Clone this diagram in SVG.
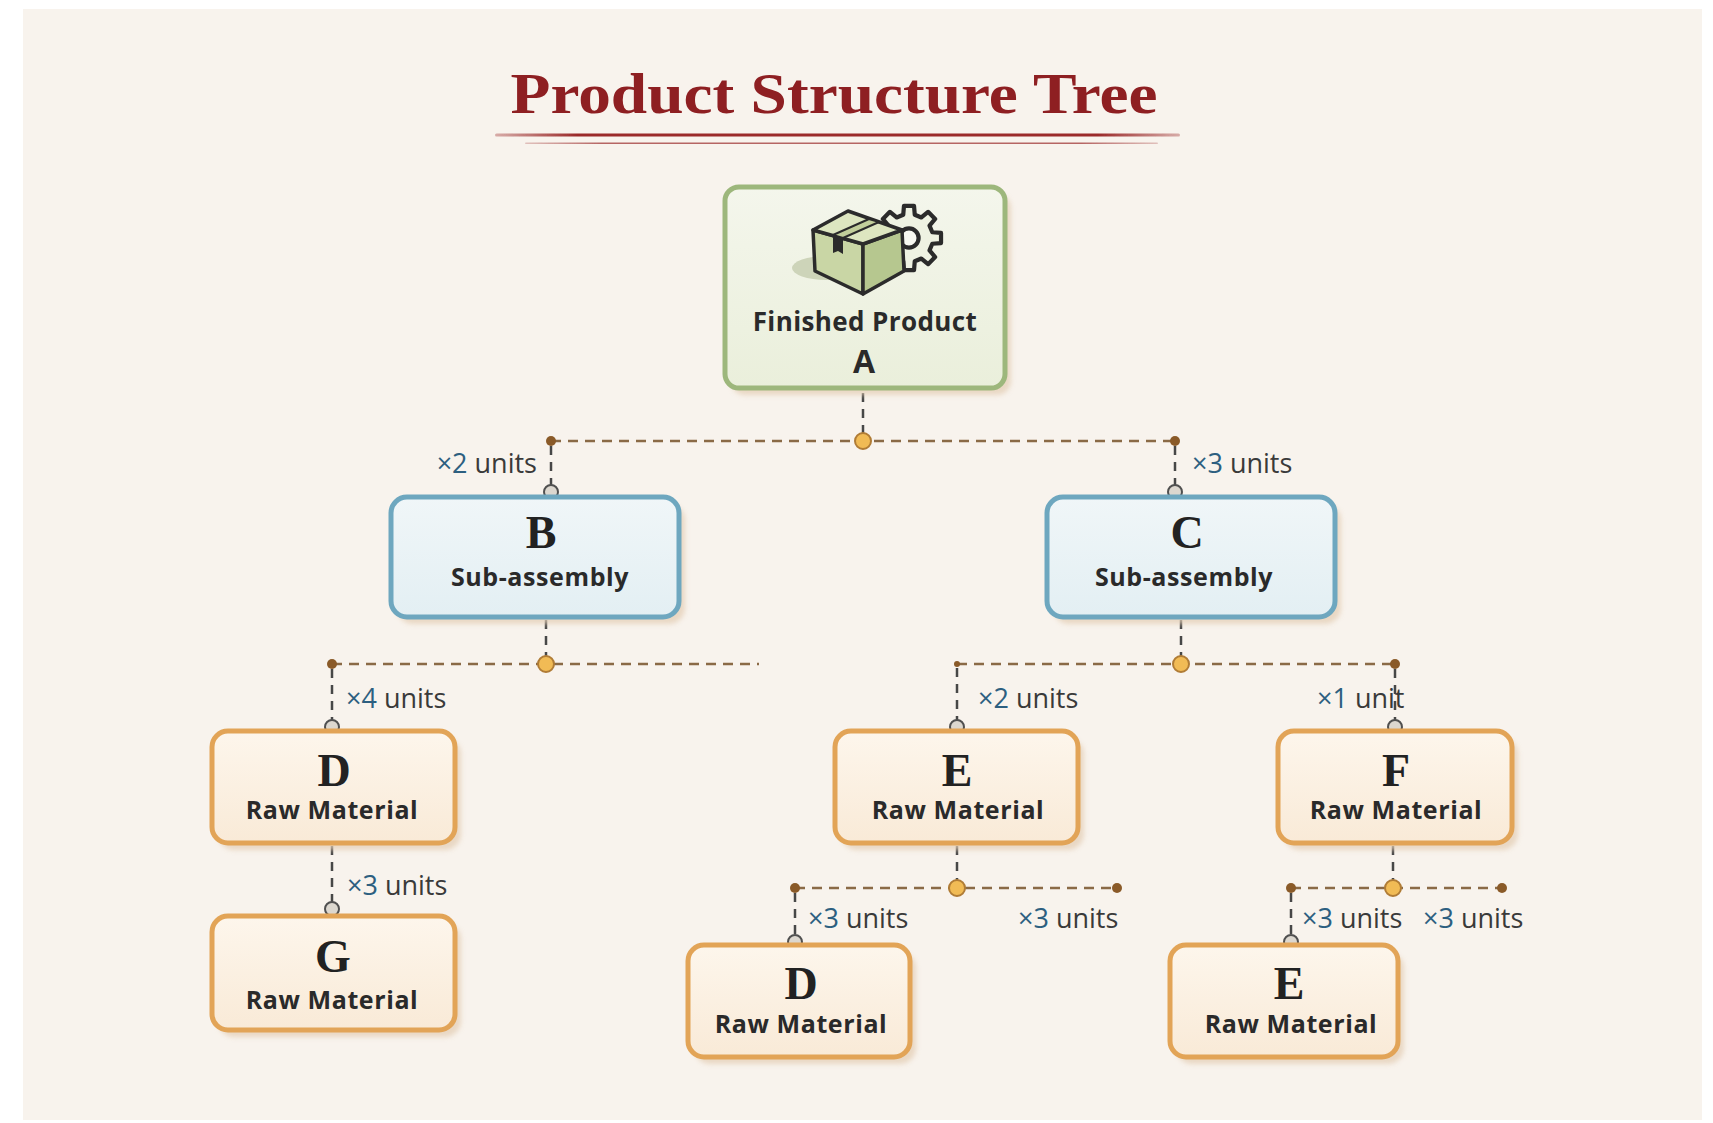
<svg xmlns="http://www.w3.org/2000/svg" width="1713" height="1123" viewBox="0 0 1713 1123">
  <defs>
    <style>
      .lbl { font-family: "Open Sans", Lato, "Liberation Sans", sans-serif; font-weight: 700; fill: #2a2a2a; text-anchor: middle; }
      .sub { font-size: 25px; letter-spacing: 0.6px; }
      .ltr { font-family: "Liberation Serif", "DejaVu Serif", serif; font-weight: 700; font-size: 46px; fill: #222; text-anchor: middle; }
      .qty { font-family: "Open Sans", Lato, "Liberation Sans", sans-serif; font-size: 27px; fill: #3a3a3a; }
      .qty .n { fill: #2d5f80; }
      .shadow { fill: #e4cfb6; opacity: 0.75; filter: url(#blur); }
      .green { fill: url(#gGreen); stroke: #9db77c; stroke-width: 5; }
      .blue { fill: url(#gBlue); stroke: #6ea7bf; stroke-width: 5; }
      .orange { fill: url(#gOrange); stroke: #e2a457; stroke-width: 5; }
      .hline { stroke: #8a6a46; stroke-width: 2.5; stroke-dasharray: 10 7; fill: none; }
      .vline { stroke: #474747; stroke-width: 2.5; stroke-dasharray: 9 7; fill: none; }
      .ring { fill: #dcd7cf; stroke: #505050; stroke-width: 2; }
      .hub { fill: #f1bb55; stroke: #b07c36; stroke-width: 2; }
      .end { fill: #8a5a28; }
      .icon { stroke: #2b2b2b; stroke-width: 3.5; stroke-linejoin: round; }
    </style>
    <filter id="blur" x="-10%" y="-10%" width="120%" height="120%">
      <feGaussianBlur stdDeviation="2.5"/>
    </filter>
    <filter id="soft" x="-5%" y="-200%" width="110%" height="500%">
      <feGaussianBlur stdDeviation="0.6"/>
    </filter>
    <linearGradient id="gGreen" x1="0" y1="0" x2="0" y2="1">
      <stop offset="0" stop-color="#f4f6ec"/>
      <stop offset="1" stop-color="#eaefdb"/>
    </linearGradient>
    <linearGradient id="gBlue" x1="0" y1="0" x2="0" y2="1">
      <stop offset="0" stop-color="#f0f6f8"/>
      <stop offset="1" stop-color="#e3eff3"/>
    </linearGradient>
    <linearGradient id="gOrange" x1="0" y1="0" x2="0" y2="1">
      <stop offset="0" stop-color="#fdf6ec"/>
      <stop offset="1" stop-color="#f9ead7"/>
    </linearGradient>
    <linearGradient id="rule" x1="0" y1="0" x2="1" y2="0">
      <stop offset="0" stop-color="#9b2a2a" stop-opacity="0.35"/>
      <stop offset="0.12" stop-color="#9b2a2a"/>
      <stop offset="0.88" stop-color="#9b2a2a"/>
      <stop offset="1" stop-color="#9b2a2a" stop-opacity="0.35"/>
    </linearGradient>
  </defs>

  <!-- page -->
  <rect x="0" y="0" width="1713" height="1123" fill="#ffffff"/>
  <rect x="23" y="9" width="1679" height="1111" fill="#f8f3ed"/>

  <!-- title -->
  <g id="title">
    <text x="834" y="113" text-anchor="middle" textLength="647" lengthAdjust="spacingAndGlyphs" font-family="'Liberation Serif', 'DejaVu Serif', serif" font-weight="700" font-size="58" fill="#8e1f22">Product Structure Tree</text>
    <rect x="495" y="133.5" width="685" height="3" rx="1.5" fill="url(#rule)" filter="url(#soft)"/>
    <rect x="525" y="142.5" width="633" height="1.6" rx="0.8" fill="url(#rule)" opacity="0.7" filter="url(#soft)"/>
  </g>

  <!-- connectors -->
  <g id="connectors">
    <!-- A to B, C -->
    <line class="vline" x1="863" y1="393" x2="863" y2="433"/>
    <line class="hline" x1="551" y1="441" x2="1175" y2="441"/>
    <line class="vline" x1="551" y1="446" x2="551" y2="485"/>
    <line class="vline" x1="1175" y1="446" x2="1175" y2="485"/>
    <!-- B to D -->
    <line class="vline" x1="546" y1="620" x2="546" y2="656"/>
    <line class="hline" x1="332" y1="664" x2="759" y2="664"/>
    <line class="vline" x1="332" y1="669" x2="332" y2="720"/>
    <!-- D to G -->
    <line class="vline" x1="332" y1="846" x2="332" y2="902"/>
    <!-- C to E, F -->
    <line class="vline" x1="1181" y1="620" x2="1181" y2="656"/>
    <line class="hline" x1="957" y1="664" x2="1395" y2="664"/>
    <line class="vline" x1="957" y1="668" x2="957" y2="720"/>
    <line class="vline" x1="1395" y1="669" x2="1395" y2="720"/>
    <!-- E to D -->
    <line class="vline" x1="957" y1="846" x2="957" y2="880"/>
    <line class="hline" x1="795" y1="888" x2="1117" y2="888"/>
    <line class="vline" x1="795" y1="893" x2="795" y2="935"/>
    <!-- F to E -->
    <line class="vline" x1="1393" y1="846" x2="1393" y2="880"/>
    <line class="hline" x1="1291" y1="888" x2="1502" y2="888"/>
    <line class="vline" x1="1291" y1="893" x2="1291" y2="935"/>

    <!-- junction dots -->
    <circle class="hub" cx="863" cy="441" r="8"/>
    <circle class="end" cx="551" cy="441" r="5"/>
    <circle class="end" cx="1175" cy="441" r="5"/>
    <circle class="hub" cx="546" cy="664" r="8"/>
    <circle class="end" cx="332" cy="664" r="5"/>
    <circle class="hub" cx="1181" cy="664" r="8"/>
    <circle class="end" cx="957" cy="664" r="3"/>
    <circle class="end" cx="1395" cy="664" r="5"/>
    <circle class="hub" cx="957" cy="888" r="8"/>
    <circle class="end" cx="795" cy="888" r="5"/>
    <circle class="end" cx="1117" cy="888" r="5"/>
    <circle class="hub" cx="1393" cy="888" r="8"/>
    <circle class="end" cx="1291" cy="888" r="5"/>
    <circle class="end" cx="1502" cy="888" r="5"/>

    <!-- attach rings -->
    <circle class="ring" cx="551" cy="492" r="7"/>
    <circle class="ring" cx="1175" cy="492" r="7"/>
    <circle class="ring" cx="332" cy="727" r="7"/>
    <circle class="ring" cx="957" cy="727" r="7"/>
    <circle class="ring" cx="1395" cy="727" r="7"/>
    <circle class="ring" cx="332" cy="909" r="7"/>
    <circle class="ring" cx="795" cy="942" r="7"/>
    <circle class="ring" cx="1291" cy="942" r="7"/>

    <!-- quantities -->
    <text class="qty" x="537" y="473" text-anchor="end"><tspan class="n">×2</tspan> units</text>
    <text class="qty" x="1192" y="473"><tspan class="n">×3</tspan> units</text>
    <text class="qty" x="346" y="708"><tspan class="n">×4</tspan> units</text>
    <text class="qty" x="347" y="895"><tspan class="n">×3</tspan> units</text>
    <text class="qty" x="978" y="708"><tspan class="n">×2</tspan> units</text>
    <text class="qty" x="1317" y="708"><tspan class="n">×1</tspan> unit</text>
    <text class="qty" x="808" y="928"><tspan class="n">×3</tspan> units</text>
    <text class="qty" x="1018" y="928"><tspan class="n">×3</tspan> units</text>
    <text class="qty" x="1302" y="928"><tspan class="n">×3</tspan> units</text>
    <text class="qty" x="1423" y="928"><tspan class="n">×3</tspan> units</text>
  </g>

  <!-- finished product -->
  <g id="node-A">
    <rect class="shadow" x="731" y="194" width="280" height="201" rx="14"/>
    <rect class="green" x="725" y="187" width="280" height="201" rx="14"/>
    <ellipse cx="826" cy="268" rx="34" ry="12" fill="#cdd4b9"/>
    <g transform="translate(909,238) scale(1.2)">
      <path class="icon" fill="#eef2e2" d="M19.4,-4.8 L26.7,-4.2 L26.7,4.2 L19.4,4.8 L17.1,10.3 L21.8,15.9 L15.9,21.8 L10.3,17.1 L4.8,19.4 L4.2,26.7 L-4.2,26.7 L-4.8,19.4 L-10.3,17.1 L-15.9,21.8 L-21.8,15.9 L-17.1,10.3 L-19.4,4.8 L-26.7,4.2 L-26.7,-4.2 L-19.4,-4.8 L-17.1,-10.3 L-21.8,-15.9 L-15.9,-21.8 L-10.3,-17.1 L-4.8,-19.4 L-4.2,-26.7 L4.2,-26.7 L4.8,-19.4 L10.3,-17.1 L15.9,-21.8 L21.8,-15.9 L17.1,-10.3 Z" stroke-width="2.8"/>
      <circle class="icon" cx="0" cy="0" r="8" fill="#f7f8f1" stroke-width="2.8"/>
    </g>
    <path class="icon" fill="#c9d6a5" d="M813,230 L863,244 L863,294 L815,271 Z"/>
    <path class="icon" fill="#b6c78f" d="M863,244 L902,230 L904,271 L863,294 Z"/>
    <path class="icon" fill="#dde6c0" d="M813,230 L848,211 L902,230 L863,244 Z"/>
    <path fill="#c2cf9b" stroke="#2b2b2b" stroke-width="2" stroke-linejoin="round" d="M833,235 L843,238 L879,222 L869,219 Z"/>
    <path fill="#2b2b2b" d="M833,235 L843,238 L843,254 L838,251 L833,253 Z"/>
    <text class="lbl" x="865" y="331" font-size="26" letter-spacing="0.4">Finished Product</text>
    <text class="lbl" x="864" y="373" font-size="32">A</text>
  </g>

  <!-- sub-assemblies -->
  <g id="node-B">
    <rect class="shadow" x="397" y="504" width="288" height="120" rx="16"/>
    <rect class="blue" x="391" y="497" width="288" height="120" rx="16"/>
    <text class="ltr" x="541" y="548">B</text>
    <text class="lbl sub" x="540" y="586">Sub-assembly</text>
  </g>
  <g id="node-C">
    <rect class="shadow" x="1053" y="504" width="288" height="120" rx="16"/>
    <rect class="blue" x="1047" y="497" width="288" height="120" rx="16"/>
    <text class="ltr" x="1187" y="548">C</text>
    <text class="lbl sub" x="1184" y="586">Sub-assembly</text>
  </g>

  <!-- raw materials -->
  <g id="node-D1">
    <rect class="shadow" x="218" y="738" width="243" height="112" rx="16"/>
    <rect class="orange" x="212" y="731" width="243" height="112" rx="16"/>
    <text class="ltr" x="334" y="786">D</text>
    <text class="lbl sub" x="332" y="819">Raw Material</text>
  </g>
  <g id="node-G">
    <rect class="shadow" x="218" y="923" width="243" height="114" rx="16"/>
    <rect class="orange" x="212" y="916" width="243" height="114" rx="16"/>
    <text class="ltr" x="333" y="972">G</text>
    <text class="lbl sub" x="332" y="1009">Raw Material</text>
  </g>
  <g id="node-E1">
    <rect class="shadow" x="841" y="738" width="243" height="112" rx="16"/>
    <rect class="orange" x="835" y="731" width="243" height="112" rx="16"/>
    <text class="ltr" x="957" y="786">E</text>
    <text class="lbl sub" x="958" y="819">Raw Material</text>
  </g>
  <g id="node-F">
    <rect class="shadow" x="1284" y="738" width="234" height="112" rx="16"/>
    <rect class="orange" x="1278" y="731" width="234" height="112" rx="16"/>
    <text class="ltr" x="1396" y="786">F</text>
    <text class="lbl sub" x="1396" y="819">Raw Material</text>
  </g>
  <g id="node-D2">
    <rect class="shadow" x="694" y="952" width="222" height="112" rx="16"/>
    <rect class="orange" x="688" y="945" width="222" height="112" rx="16"/>
    <text class="ltr" x="801" y="999">D</text>
    <text class="lbl sub" x="801" y="1033">Raw Material</text>
  </g>
  <g id="node-E2">
    <rect class="shadow" x="1176" y="952" width="228" height="112" rx="16"/>
    <rect class="orange" x="1170" y="945" width="228" height="112" rx="16"/>
    <text class="ltr" x="1289" y="999">E</text>
    <text class="lbl sub" x="1291" y="1033">Raw Material</text>
  </g>
</svg>
